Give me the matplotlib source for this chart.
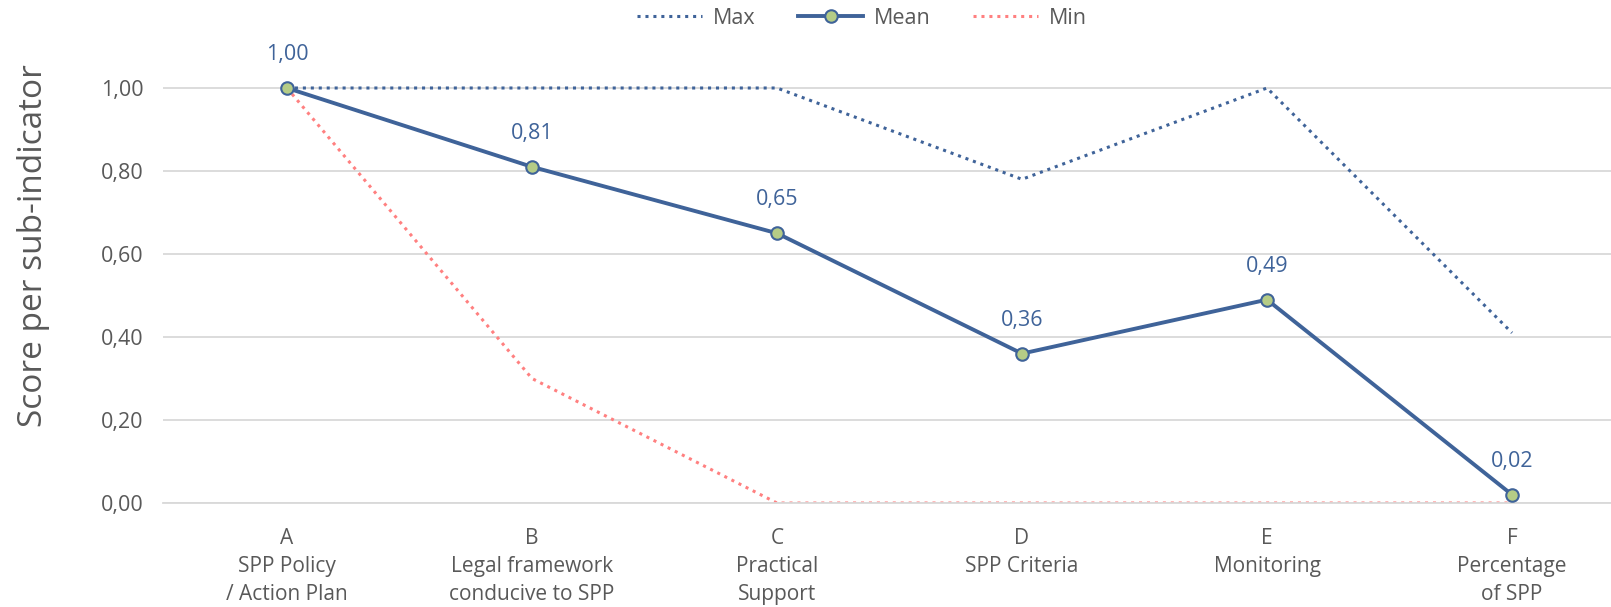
import numpy as np
import matplotlib.pyplot as plt

plt.rcParams['font.family'] = ['Open Sans', 'DejaVu Sans']

categories = ["A\nSPP Policy\n/ Action Plan",
              "B\nLegal framework\nconducive to SPP",
              "C\nPractical\nSupport",
              "D\nSPP Criteria",
              "E\nMonitoring",
              "F\nPercentage\nof SPP"]
max_vals = [1.00, 1.00, 1.00, 0.78, 1.00, 0.41]
mean_vals = [1.00, 0.81, 0.65, 0.36, 0.49, 0.02]
min_vals = [1.00, 0.30, 0.00, 0.00, 0.00, 0.00]
yticks = [0.0, 0.2, 0.4, 0.6, 0.8, 1.0]

blue = "#3F6399"
red = "#FF8080"
grey = "#595959"

fig = plt.figure(figsize=(16.11, 6.07), dpi=100)
ax = fig.add_axes([163 / 1611, 104 / 607, 1 - 163 / 1611, 456.5 / 607])

x = np.arange(len(categories))
ax.plot(x, max_vals, color=blue, linestyle=(0, (1, 1.6)), linewidth=2.2, label="Max")
ax.plot(x, mean_vals, color=blue, linewidth=2.8, marker="o", markersize=9,
        markerfacecolor="#B5CC86", markeredgecolor=blue, markeredgewidth=1.5,
        label="Mean", zorder=5)
ax.plot(x, min_vals, color=red, linestyle=(0, (1, 1.6)), linewidth=2.2, label="Min")

for xi, v in zip(x, mean_vals):
    ax.annotate(f"{v:.2f}".replace(".", ","), (xi, v), xytext=(0, 24),
                textcoords="offset points", ha="center", va="center",
                color=blue, fontsize=15.5)

ax.set_xlim(-0.506, 5.404)
ax.set_ylim(0, 1.1)
ax.set_xticks(x)
ax.set_xticklabels(categories, fontsize=15, color=grey, linespacing=1.45)
ax.set_yticks(yticks)
ax.set_yticklabels([f"{t:.2f}".replace(".", ",") for t in yticks], fontsize=15.5, color=grey)
ax.tick_params(length=0, pad=14)
ax.tick_params(axis="x", pad=18)
ax.grid(axis="y", color="#D9D9D9", linewidth=1.3)
ax.set_axisbelow(True)
for s in ["top", "right", "left"]:
    ax.spines[s].set_visible(False)
ax.spines["bottom"].set_color("#D9D9D9")
ax.spines["bottom"].set_linewidth(1.3)

ax.set_ylabel("Score per sub-indicator", fontsize=24, color=grey)
ax.yaxis.set_label_coords(-0.078, 0.563)

fig.legend(loc="center", bbox_to_anchor=(862 / 1611, 1 - 18 / 607), ncol=3,
           frameon=False, fontsize=15.5, labelcolor=grey, handlelength=3.0,
           columnspacing=2.0, handletextpad=0.5)

fig.savefig("out.png", dpi=100)
